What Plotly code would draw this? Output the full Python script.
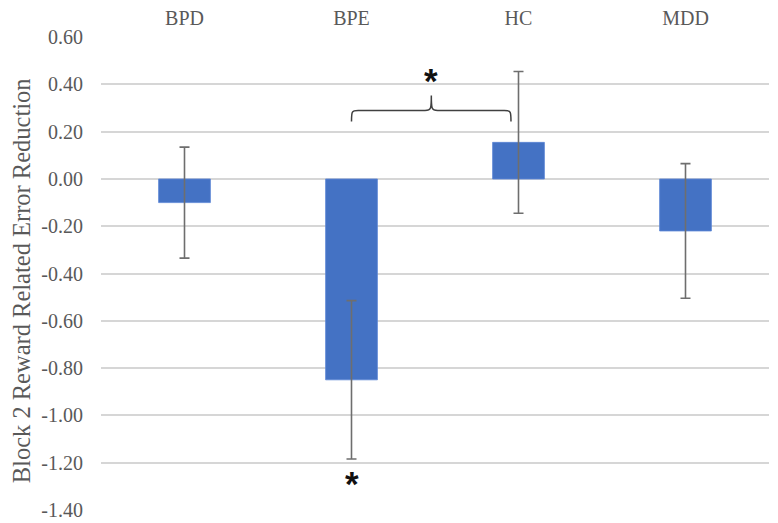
import plotly.graph_objects as go

categories = ["BPD", "BPE", "HC", "MDD"]
means = [-0.10, -0.85, 0.155, -0.22]
errors = [0.235, 0.335, 0.30, 0.285]
y_ticks = [0.60, 0.40, 0.20, 0.00, -0.20, -0.40, -0.60, -0.80, -1.00, -1.20, -1.40]
y_title = "Block 2 Reward Related Error Reduction"

fig = go.Figure()
fig.add_trace(go.Bar(
    x=categories, y=means,
    marker=dict(color="#4472C4", line=dict(color="#5B85D6", width=0.8)),
    error_y=dict(type="data", array=errors, visible=True, color="#6E6E6E",
                 thickness=1.6, width=5),
))

# significance bracket between BPE and HC
fig.add_shape(type="path", xref="x", yref="y",
              path="M 1.0,0.243 C 1.0,0.285 1.0,0.29 1.04,0.29 L 1.44,0.29 C 1.478,0.29 1.478,0.30 1.478,0.353 "
                   "C 1.478,0.30 1.478,0.29 1.516,0.29 L 1.915,0.29 C 1.955,0.29 1.955,0.285 1.955,0.243",
              line=dict(color="#404040", width=1.5))

fig.add_annotation(x=1.478, y=0.416, text="<b>*</b>", showarrow=False, xref="x", yref="y",
                   font=dict(family="Liberation Sans", size=35, color="#111111"))
fig.add_annotation(x=1.0, y=-1.29, text="<b>*</b>", showarrow=False, xref="x", yref="y",
                   font=dict(family="Liberation Sans", size=35, color="#111111"))

# y-axis title
fig.add_annotation(x=-0.1195, y=0.484, xref="paper", yref="paper", text=y_title,
                   textangle=-90, showarrow=False, xanchor="center", yanchor="middle",
                   font=dict(family="Liberation Serif", size=24.5, color="#595959"))

fig.update_layout(
    width=770, height=515,
    margin=dict(l=93, r=9, t=29, b=13),
    plot_bgcolor="white", paper_bgcolor="white",
    showlegend=False,
    bargap=0.69,
    font=dict(family="Liberation Serif", color="#595959", size=20),
    xaxis=dict(side="top", showgrid=False, showline=False, ticks="", automargin=False,
               tickfont=dict(size=20, color="#595959"), ticklabelstandoff=7),
    yaxis=dict(range=[-1.401, 0.601], tickvals=y_ticks, automargin=False,
               ticktext=[f"{v:.2f}" for v in y_ticks],
               showgrid=True, gridcolor="#D6D6D6", gridwidth=1.5,
               zeroline=True, zerolinecolor="#D6D6D6", zerolinewidth=1.5,
               showline=False, ticks="", ticklabelstandoff=17,
               tickfont=dict(size=20, color="#595959")),
)

fig.write_html("out.html")
